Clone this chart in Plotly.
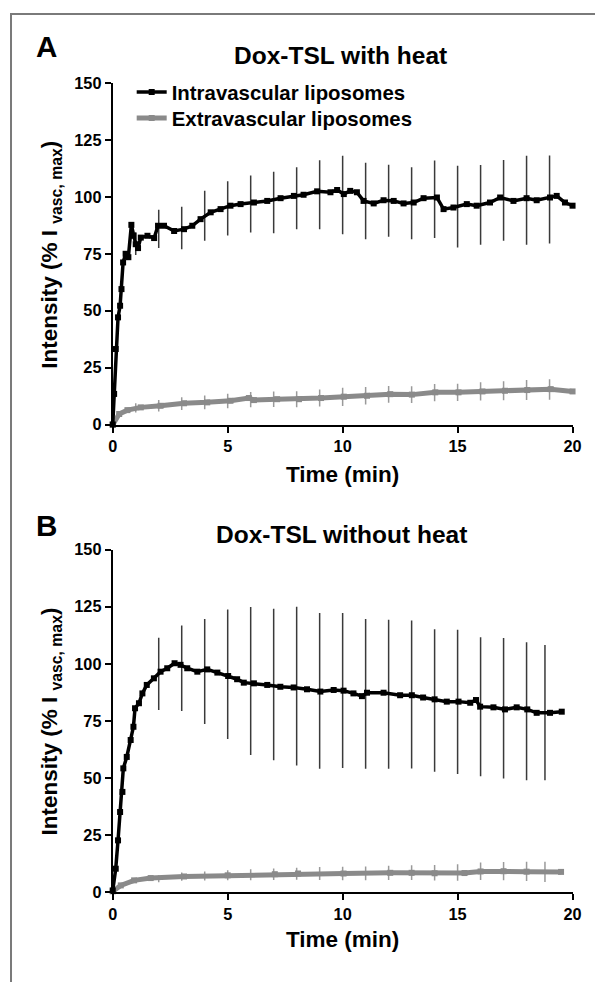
import plotly.graph_objects as go

# ---- panel A: Dox-TSL with heat ----
a_time_intra = [0.0, 0.06, 0.13, 0.23, 0.32, 0.38, 0.45, 0.56, 0.68, 0.81, 0.9, 1.0, 1.1, 1.22, 1.51, 1.8,
                1.97, 2.23, 2.67, 3.1, 3.46, 3.82, 4.26, 4.69, 5.12, 5.56, 6.14, 6.72, 7.3, 7.88, 8.3, 8.89,
                9.47, 9.76, 10.05, 10.33, 10.62, 10.91, 11.35, 11.78, 12.22, 12.65, 13.09, 13.52, 14.1, 14.39,
                14.82, 15.4, 15.83, 16.41, 16.85, 17.43, 18.0, 18.44, 19.02, 19.31, 19.67, 20.0]
a_intra = [0.1, 13.5, 33.2, 47.1, 52.2, 59.5, 71.2, 75.0, 73.5, 87.7, 82.9, 79.2, 77.5, 82.1, 82.9, 81.9,
           87.3, 87.3, 85.0, 85.8, 87.3, 90.2, 93.2, 94.6, 96.1, 96.8, 97.5, 98.2, 99.4, 100.4, 100.9, 102.4,
           102.0, 103.0, 101.2, 102.6, 102.0, 98.2, 97.1, 98.5, 98.2, 97.1, 97.5, 99.4, 99.7, 94.6,
           95.3, 96.8, 96.1, 97.5, 99.7, 98.2, 99.4, 98.5, 99.7, 100.4, 97.5, 96.1]

a_time_extra = [0.0, 0.28, 0.64, 1.22, 2.08, 3.1, 4.11, 5.12, 5.92, 6.14, 7.15, 8.1, 9.06, 10.05, 11.06,
                12.07, 13.01, 14.03, 15.04, 16.08, 17.06, 18.03, 19.05, 20.0]
a_extra = [0.0, 4.7, 6.4, 7.6, 8.3, 9.4, 9.8, 10.5, 11.7, 10.8, 11.2, 11.2, 11.7, 12.3, 12.7,
           13.4, 13.2, 14.2, 14.2, 14.6, 14.9, 15.2, 15.6, 14.6]

a_err_time = [1, 2, 3, 4, 5, 6, 7, 8, 9, 10, 11, 12, 13, 14, 15, 16, 17, 18, 19]
a_intra_mean = [79.5, 85.9, 86.3, 91.7, 94.9, 96.8, 97.5, 99.4, 100.9, 100.8, 98.2, 98.3, 97.2, 98.9,
                95.7, 96.5, 98.4, 98.5, 98.8]
a_intra_sd = [5.0, 8.4, 9.3, 11.0, 11.9, 12.5, 13.5, 13.6, 15.1, 17.2, 16.8, 15.8, 15.8, 17.0,
              17.9, 17.5, 17.7, 19.5, 19.3]
a_extra_mean = [7.4, 8.3, 9.3, 9.8, 10.4, 11.0, 11.2, 11.2, 11.7, 12.2, 12.7, 13.3, 13.2, 14.1,
                14.2, 14.6, 14.9, 15.2, 15.4]
a_extra_sd = [2.0, 2.5, 2.8, 3.0, 3.2, 3.3, 3.4, 3.5, 3.7, 4.0, 3.8, 3.7, 3.7, 3.8, 3.8, 4.0, 4.2, 4.4, 4.5]

# ---- panel B: Dox-TSL without heat ----
b_time_intra = [0.0, 0.13, 0.23, 0.32, 0.42, 0.46, 0.61, 0.78, 0.9, 0.97, 1.14, 1.29, 1.48, 1.79, 2.08,
                2.37, 2.69, 2.95, 3.24, 3.68, 4.11, 4.55, 5.02, 5.41, 5.7, 6.14, 6.72, 7.29, 7.87, 8.45,
                9.03, 9.61, 10.04, 10.47, 10.84, 11.06, 11.78, 12.5, 13.01, 13.5, 14.0, 14.53, 15.04,
                15.55, 15.8, 15.98, 16.56, 17.06, 17.57, 18.03, 18.44, 19.02, 19.53]
b_intra = [0.9, 10.4, 22.8, 35.2, 44.0, 54.3, 59.3, 66.7, 72.5, 80.6, 82.8, 87.1, 90.8, 93.7, 96.6,
           98.1, 100.3, 99.6, 98.1, 96.6, 97.6, 96.2, 94.7, 93.3, 91.8, 91.5, 90.8, 90.0, 89.7, 88.9,
           87.9, 88.6, 88.3, 87.1, 85.9, 87.4, 87.4, 86.3, 86.3, 85.3, 84.5, 83.5, 83.5,
           83.0, 84.2, 81.3, 81.0, 80.1, 81.0, 80.1, 78.6, 78.6, 79.1]

b_time_extra = [0.0, 0.35, 0.93, 1.65, 3.1, 5.0, 7.05, 8.06, 10.04, 12.07, 13.0, 14.0, 15.3, 16.0,
                17.0, 18.0, 19.5]
b_extra = [0.5, 3.1, 5.3, 6.3, 7.0, 7.5, 8.0, 8.3, 8.3, 8.6, 8.6, 8.4, 8.5, 9.2, 9.3, 9.1, 9.0]

b_err_time = [2, 3, 4, 5, 6, 7, 8, 9, 10, 11, 12, 13, 14, 15, 16, 17, 18, 18.8]
b_intra_mean = [95.6, 98.1, 96.7, 95.5, 92.5, 91.0, 90.3, 88.2, 88.4, 86.9, 86.7, 86.6, 84.0, 83.4,
                81.3, 80.6, 79.3, 78.7]
b_intra_sd = [15.8, 18.7, 23.0, 28.3, 32.4, 33.1, 34.7, 34.1, 33.9, 32.8, 32.6, 32.4, 31.2, 31.6,
              30.4, 30.7, 30.2, 29.6]
b_extra_mean = [6.0, 6.9, 7.2, 7.5, 7.8, 8.0, 8.2, 8.3, 8.3, 8.4, 8.6, 8.7, 8.6, 8.7, 9.3, 9.3, 9.2, 9.0]
b_extra_sd = [1.5, 1.8, 2.0, 2.2, 2.4, 2.5, 2.6, 2.8, 2.9, 3.0, 3.1, 3.2, 3.4, 3.6, 3.8, 4.0, 4.2, 4.4]

x_ticks = [0, 5, 10, 15, 20]
y_ticks = [0, 25, 50, 75, 100, 125, 150]

BLACK = "#000000"
GREY = "#8a8a8a"
FONT = "Liberation Sans, Arial, sans-serif"

W, H = 595, 974
# the page ends up slightly shifted/shrunk in the photo, so target positions are mapped back
OX, OY, SX, SY = 12.0, 16.1, 0.979, 0.982


def px(x):
    return ((x - OX) / SX) / W


def py(y):
    return 1 - ((y - OY) / SY) / H


def fs(size):
    return round(size / SX, 1)


fig = go.Figure()


def add_panel(xa, ya, t_in, v_in, t_ex, v_ex, et, im, isd, em, esd, legend):
    # error bars first so the curves sit on top
    fig.add_trace(go.Scatter(x=et, y=em, mode="markers", xaxis=xa, yaxis=ya, showlegend=False,
                             marker=dict(size=1, color="rgba(0,0,0,0)"),
                             error_y=dict(type="data", array=esd, color="#9a9a9a", thickness=1.5, width=0),
                             hoverinfo="skip"))
    fig.add_trace(go.Scatter(x=et, y=im, mode="markers", xaxis=xa, yaxis=ya, showlegend=False,
                             marker=dict(size=1, color="rgba(0,0,0,0)"),
                             error_y=dict(type="data", array=isd, color="#3a3a3a", thickness=1.5, width=0),
                             hoverinfo="skip"))
    fig.add_trace(go.Scatter(x=t_ex, y=v_ex, mode="lines+markers", xaxis=xa, yaxis=ya,
                             name="Extravascular liposomes", showlegend=legend, legend="legend2",
                             cliponaxis=False, line=dict(color=GREY, width=5),
                             marker=dict(symbol="square", size=6, color=GREY)))
    fig.add_trace(go.Scatter(x=t_in, y=v_in, mode="lines+markers", xaxis=xa, yaxis=ya,
                             name="Intravascular liposomes", showlegend=legend, legend="legend",
                             cliponaxis=False, line=dict(color=BLACK, width=3.5),
                             marker=dict(symbol="square", size=6, color=BLACK)))


add_panel("x", "y", a_time_intra, a_intra, a_time_extra, a_extra,
          a_err_time, a_intra_mean, a_intra_sd, a_extra_mean, a_extra_sd, True)
add_panel("x2", "y2", b_time_intra, b_intra, b_time_extra, b_extra,
          b_err_time, b_intra_mean, b_intra_sd, b_extra_mean, b_extra_sd, False)

axis_common = dict(showgrid=False, zeroline=False, showline=True, linecolor="black", linewidth=2,
                   ticks="outside", ticklen=6, tickwidth=2, tickcolor="black",
                   tickfont=dict(family=FONT, size=fs(16), color="black", weight="bold"))

x_dom = [px(112), px(573)]
fig.update_layout(
    xaxis=dict(domain=x_dom, range=[0, 20], tickvals=x_ticks, anchor="y", **axis_common),
    yaxis=dict(domain=[py(424), py(82)], range=[0, 150], tickvals=y_ticks, anchor="x", **axis_common),
    xaxis2=dict(domain=x_dom, range=[0, 20], tickvals=x_ticks, anchor="y2", **axis_common),
    yaxis2=dict(domain=[py(892), py(549)], range=[0, 150], tickvals=y_ticks, anchor="x2", **axis_common),
)

legend_style = dict(xanchor="left", yanchor="middle", bgcolor="rgba(0,0,0,0)", itemwidth=30,
                    font=dict(family=FONT, size=fs(20), color="black", weight="bold"))
fig.update_layout(
    legend=dict(x=px(131), y=py(91.5), **legend_style),
    legend2=dict(x=px(131), y=py(117.5), **legend_style),
)

texts = [
    ("A", 46, 46, 29, 0),
    ("B", 46, 525, 29, 0),
    ("Dox-TSL with heat", 340, 55, 24, 0),
    ("Dox-TSL without heat", 341, 534, 24, 0),
    ("Time (min)", 342.5, 474, 22, 0),
    ("Time (min)", 342.5, 939, 22, 0),
    ("Intensity (% I <sub>vasc, max</sub>)", 50, 254, 22, -90),
    ("Intensity (% I <sub>vasc, max</sub>)", 50, 721, 22, -90),
]
for txt, x, y, size, ang in texts:
    fig.add_annotation(text=txt, x=px(x), y=py(y), xref="paper", yref="paper",
                       xanchor="center", yanchor="middle", showarrow=False, textangle=ang,
                       font=dict(family=FONT, size=fs(size), color="black", weight="bold"))

# grey frame around the figure (only left and top edges fall inside the picture)
fig.add_shape(type="rect", xref="paper", yref="paper", x0=px(10), y0=-0.1, x1=1.1, y1=py(13),
              line=dict(color="#7a7a7a", width=2))

fig.update_layout(width=W, height=H, autosize=False, margin=dict(l=0, r=0, t=0, b=0),
                  paper_bgcolor="white", plot_bgcolor="white")

fig.write_html("out.html")
